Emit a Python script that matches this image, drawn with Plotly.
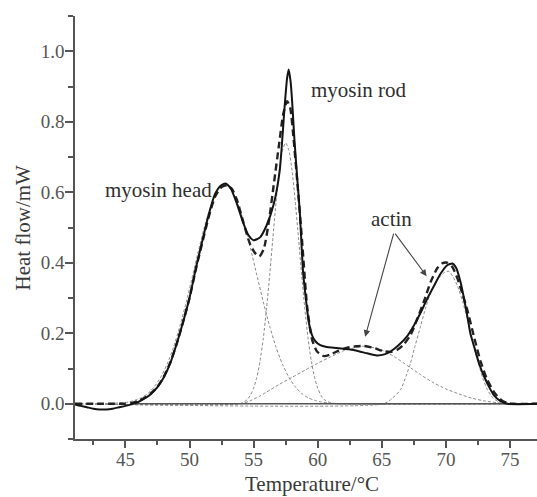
import plotly.graph_objects as go

# ---- data ----
# experimental DSC curve (solid)
exp_x = [41.07, 41.5, 42.0, 42.5, 43.0, 43.5, 44.0, 44.5, 45.0, 45.5, 46.0, 46.5, 47.0, 47.5,
         48.0, 48.5, 49.0, 49.5, 50.0, 50.5, 51.0, 51.5, 52.0, 52.4, 52.8, 53.2, 53.7, 54.2,
         54.6, 55.0, 55.5, 56.0, 56.56, 57.03, 57.42, 57.6, 57.73, 57.88, 58.0, 58.18, 58.4,
         58.6, 58.86, 59.1, 59.3, 59.55, 59.8, 60.2, 60.7, 61.25, 62.0, 62.55, 63.2, 63.86,
         64.6, 65.2, 65.7, 66.3, 66.98, 67.5, 68.02, 68.5, 69.06, 69.6, 70.1, 70.5, 70.8,
         71.15, 71.4, 71.67, 71.9, 72.19, 72.6, 72.97, 73.4, 73.75, 74.2, 74.8, 77.1]
exp_y = [-0.002, -0.006, -0.010, -0.014, -0.016, -0.016, -0.014, -0.010, -0.006, -0.001,
         0.005, 0.015, 0.028, 0.047, 0.075, 0.115, 0.170, 0.232, 0.300, 0.385, 0.462, 0.537,
         0.596, 0.618, 0.625, 0.612, 0.567, 0.512, 0.478, 0.464, 0.472, 0.505, 0.565, 0.660,
         0.844, 0.920, 0.948, 0.915, 0.860, 0.750, 0.640, 0.545, 0.372, 0.290, 0.232, 0.195,
         0.178, 0.166, 0.161, 0.159, 0.156, 0.154, 0.149, 0.143, 0.137, 0.140, 0.149, 0.166,
         0.192, 0.222, 0.258, 0.295, 0.334, 0.370, 0.393, 0.398, 0.385, 0.343, 0.300, 0.248,
         0.200, 0.163, 0.112, 0.078, 0.045, 0.024, 0.009, 0.000, 0.000]

# fitted sum (heavy dashed)
fit_x = [41.07, 43.0, 44.0, 45.0, 45.5, 46.0, 46.5, 47.0, 47.5, 48.0, 48.5, 49.0, 49.5, 50.0,
         50.5, 51.0, 51.5, 52.0, 52.5, 52.9, 53.3, 53.7, 54.2, 54.7, 55.1, 55.45, 55.8, 56.2,
         56.6, 57.0, 57.3, 57.61, 57.85, 58.12, 58.45, 58.77, 59.17, 59.56, 59.95, 60.5,
         61.0, 61.6, 62.3, 63.0, 63.6, 64.3, 65.15, 65.7, 66.2, 66.7, 67.24, 67.7, 68.28, 68.8,
         69.33, 69.7, 70.1, 70.5, 70.9, 71.3, 71.67, 72.2, 72.7, 73.2, 73.75, 74.3, 74.8,
         75.2, 77.1]
fit_y = [0.000, 0.000, 0.000, 0.000, 0.002, 0.008, 0.017, 0.030, 0.048, 0.077, 0.117, 0.170,
         0.232, 0.300, 0.382, 0.458, 0.530, 0.588, 0.615, 0.620, 0.610, 0.578, 0.515, 0.455,
         0.428, 0.418, 0.440, 0.520, 0.630, 0.740, 0.820, 0.858, 0.840, 0.750, 0.610, 0.466,
         0.277, 0.182, 0.148, 0.135, 0.140, 0.150, 0.159, 0.163, 0.164, 0.159, 0.149, 0.147,
         0.153, 0.168, 0.195, 0.235, 0.290, 0.345, 0.385, 0.398, 0.400, 0.388, 0.355, 0.310,
         0.265, 0.188, 0.120, 0.070, 0.033, 0.011, 0.002, 0.000, 0.000]

# deconvoluted components (thin grey dashed)
head_x = [41.07, 44.0, 44.75, 45.25, 45.75, 46.25, 46.75, 47.25, 47.75, 48.25, 48.75, 49.25,
          49.75, 50.25, 50.75, 51.25, 51.75, 52.25, 52.75, 53.25, 53.75, 54.25, 54.75, 55.25,
          55.75, 56.25, 56.75, 57.25, 57.75, 58.25, 58.75, 59.25, 59.75, 60.25, 60.75, 61.5, 77.1]
head_y = [0.000, 0.001, 0.003, 0.005, 0.010, 0.017, 0.029, 0.048, 0.075, 0.112, 0.160, 0.220,
          0.289, 0.365, 0.442, 0.513, 0.570, 0.607, 0.620, 0.607, 0.570, 0.513, 0.442, 0.365,
          0.289, 0.220, 0.160, 0.112, 0.075, 0.048, 0.029, 0.017, 0.010, 0.005, 0.003, 0.000, 0.000]

rod_x = [41.07, 54.0, 54.5, 54.75, 55.0, 55.25, 55.5, 55.75, 56.0, 56.25, 56.5, 56.75, 57.0,
         57.25, 57.5, 57.75, 58.0, 58.25, 58.5, 58.75, 59.0, 59.25, 59.5, 59.75, 60.0, 60.25,
         60.5, 61.0, 61.5, 77.1]
rod_y = [0.000, 0.001, 0.012, 0.024, 0.044, 0.075, 0.121, 0.184, 0.267, 0.364, 0.470, 0.573,
         0.661, 0.719, 0.740, 0.719, 0.661, 0.573, 0.470, 0.364, 0.267, 0.184, 0.121, 0.075,
         0.044, 0.024, 0.012, 0.003, 0.000, 0.000]

actin1_x = [41.07, 54.0, 54.7, 55.5, 56.0, 57.0, 58.0, 59.0, 60.0, 61.0, 62.0, 63.0, 63.5,
            64.0, 65.0, 66.0, 67.0, 68.0, 69.0, 70.0, 71.0, 72.0, 73.0, 74.0, 75.0, 77.1]
actin1_y = [0.000, 0.000, 0.008, 0.022, 0.033, 0.055, 0.075, 0.095, 0.115, 0.133, 0.150,
            0.160, 0.163, 0.162, 0.152, 0.133, 0.108, 0.083, 0.060, 0.042, 0.028, 0.016,
            0.008, 0.003, 0.000, 0.000]

actin2_x = [41.07, 65.15, 65.8, 66.46, 66.9, 67.24, 67.6, 68.02, 68.4, 68.8, 69.2, 69.58, 69.9,
            70.23, 70.55, 70.9, 71.3, 71.67, 72.05, 72.45, 72.85, 73.23, 73.7, 74.3, 75.0, 77.1]
actin2_y = [0.000, 0.000, 0.015, 0.040, 0.080, 0.116, 0.165, 0.220, 0.270, 0.315, 0.345,
            0.362, 0.373, 0.376, 0.360, 0.334, 0.290, 0.239, 0.180, 0.126, 0.075, 0.040,
            0.015, 0.002, 0.000, 0.000]

base_x = [45.7, 77.1]
base_y = [0.0, 0.0]

x_ticks = [45, 50, 55, 60, 65, 70, 75]
y_ticks = [0.0, 0.2, 0.4, 0.6, 0.8, 1.0]
y_tick_text = ["0.0", "0.2", "0.4", "0.6", "0.8", "1.0"]

labels = ["myosin head", "myosin rod", "actin"]
label_x = [47.55, 63.2, 65.77]
label_y = [0.606, 0.891, 0.525]

arrow_tail = (65.95, 0.487)
arrow_tips_x = [63.7, 68.49]
arrow_tips_y = [0.19, 0.362]

# ---- figure ----
fig = go.Figure()

comp_style = dict(color="#8a8a8a", width=1, dash="3px,2px", shape="spline", smoothing=0.6)
for cx, cy in [(head_x, head_y), (rod_x, rod_y), (actin1_x, actin1_y), (actin2_x, actin2_y)]:
    fig.add_trace(go.Scatter(x=cx, y=cy, mode="lines", line=comp_style, showlegend=False,
                             hoverinfo="skip"))

fig.add_trace(go.Scatter(x=base_x, y=base_y, mode="lines",
                         line=dict(color="#555555", width=1.5), showlegend=False))

fig.add_trace(go.Scatter(x=fit_x, y=fit_y, mode="lines",
                         line=dict(color="#222222", width=2.4, dash="7px,4px",
                                   shape="spline", smoothing=0.6),
                         showlegend=False))

fig.add_trace(go.Scatter(x=exp_x, y=exp_y, mode="lines",
                         line=dict(color="#141414", width=2, shape="spline", smoothing=0.6),
                         showlegend=False))

font_family = "Liberation Serif"

annotations = []
for t, lx, ly in zip(labels, label_x, label_y):
    annotations.append(dict(x=lx, y=ly, xref="x", yref="y", text=t, showarrow=False,
                            font=dict(family=font_family, size=21, color="#2e2e2e"),
                            xanchor="center", yanchor="middle"))
for tx, ty in zip(arrow_tips_x, arrow_tips_y):
    annotations.append(dict(x=tx, y=ty, xref="x", yref="y", ax=arrow_tail[0], ay=arrow_tail[1],
                            axref="x", ayref="y", text="", showarrow=True, arrowhead=2,
                            arrowsize=1.2, arrowwidth=1.1, arrowcolor="#444444"))
# axis titles
annotations.append(dict(x=0.513, y=-0.106, xref="paper", yref="paper", text="Temperature/°C",
                        showarrow=False, xanchor="center", yanchor="middle",
                        font=dict(family=font_family, size=21, color="#3a3a3a")))
annotations.append(dict(x=-0.1126, y=0.5, xref="paper", yref="paper", text="Heat flow/mW",
                        showarrow=False, xanchor="center", yanchor="middle", textangle=-90,
                        font=dict(family=font_family, size=21, color="#3a3a3a")))

axis_common = dict(showline=True, linecolor="#555555", linewidth=1.5, ticks="outside",
                   tickcolor="#555555", tickwidth=1.5, showgrid=False, zeroline=False,
                   mirror=False, automargin=False,
                   tickfont=dict(family=font_family, size=19, color="#555555"))

fig.update_layout(
    width=537, height=497,
    margin=dict(l=75, r=0, t=16, b=58, autoexpand=False),
    paper_bgcolor="white", plot_bgcolor="white",
    annotations=annotations,
    xaxis=dict(range=[41.07, 77.1], tickmode="array", tickvals=x_ticks, ticklen=7,
               ticklabelstandoff=-5,
               minor=dict(dtick=2.5, tick0=42.5, ticks="outside", ticklen=4,
                          tickcolor="#555555", tickwidth=1.5),
               **axis_common),
    yaxis=dict(range=[-0.1, 1.1], tickmode="array", tickvals=y_ticks, ticktext=y_tick_text,
               ticklen=8, ticklabelstandoff=-3,
               minor=dict(dtick=0.1, tick0=-0.1, ticks="outside", ticklen=5,
                          tickcolor="#555555", tickwidth=1.5),
               **axis_common),
)

fig.write_html("out.html", config={"displayModeBar": False},
               post_script="document.body.style.margin='0';document.body.style.overflow='hidden';")
